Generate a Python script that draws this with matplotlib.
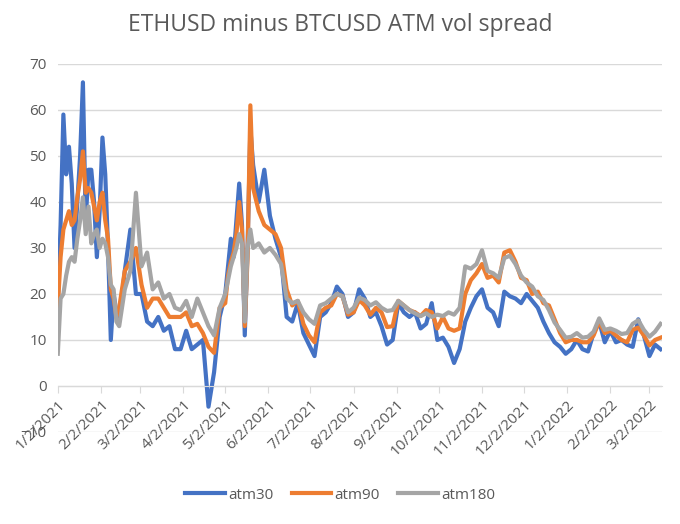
import pandas as pd
import matplotlib
matplotlib.use("Agg")
import matplotlib.pyplot as plt

# days since 1/2/2021 of each reading
days = ([0, 2, 4, 6, 8, 10, 12, 14, 16, 18, 20, 22, 24, 26, 28, 30, 32, 34, 36, 38, 40, 42, 44]
        + [48, 52, 56, 60, 64, 68, 72, 76, 80, 84, 88, 92, 96, 100, 104, 108, 112, 116]
        + [120, 122, 124, 126, 128, 130, 132, 134, 136, 138, 140]
        + [144, 148, 152, 156, 160, 164, 168, 172, 176, 180, 184, 188, 192, 196, 200,
           204, 208, 212, 216, 220, 224, 228, 232, 236, 240, 244, 248, 252, 256, 260,
           264, 268, 272, 276, 280, 284, 288, 292, 296, 300, 304, 308, 312, 316, 320,
           324, 328, 332, 336, 340, 344, 348, 352, 356, 360, 364, 368, 372, 376, 380,
           384, 388, 392, 396, 400, 404, 408, 412, 416, 420, 424, 428, 432])

atm30 = ([18, 35, 59, 46, 52, 44, 30, 40, 50, 66, 36, 47, 47, 40, 28, 38, 54, 46, 30, 10, 20, 16, 14]
         + [25, 34, 20, 20, 14, 13, 15, 12, 13, 8, 8, 12, 8, 9, 10, -4.5, 3, 15]
         + [20, 26, 32, 28, 36, 44, 35, 11, 30, 56, 48]
         + [40, 47, 37, 32, 28, 15, 14, 18, 11.5, 9, 6.5, 15, 16, 18, 21.6,
            20, 15, 16, 21, 19, 15, 16, 13, 9, 10, 18, 16, 15, 16, 12.5,
            13.5, 18, 10, 10.5, 8.5, 5, 8, 14, 17, 19.5, 21, 17, 16, 13, 20.5,
            19.5, 19, 18, 20, 18.5, 17, 14, 11.5, 9.5, 8.5, 7, 8, 10, 8, 7.5,
            11.5, 14, 9.5, 12, 9.5, 10, 9, 8.5, 14.5, 11, 6.5, 9, 8])

atm90 = ([17, 28, 34, 36, 38, 35, 36, 41, 45, 51, 42, 43, 42, 39, 36, 40, 42, 36, 32, 21, 19, 15, 17]
         + [25, 27, 30, 22, 17, 19, 19, 17, 15, 15, 15, 16, 13, 13.5, 11.5, 8.5, 7.2, 17]
         + [18, 24, 27, 29, 33, 40, 34, 13, 28, 61, 43]
         + [38, 35, 34, 33, 30, 21, 17.5, 18.5, 13.5, 11, 9.5, 16, 17, 17.5, 20,
            19.5, 15.5, 16, 18.7, 17.5, 15.5, 17, 16, 12.8, 13, 18.5, 17.5, 16.5, 16, 15.2,
            16.5, 16, 12.5, 15, 12.5, 12, 12.5, 20, 23, 24.5, 26.5, 23.5, 24, 22.5, 29,
            29.5, 27, 23.5, 23, 20, 20.5, 18, 17.5, 14.5, 11.5, 9.5, 10, 10, 9.5, 9.5,
            11, 14, 11.5, 12, 11, 10, 9.5, 12.2, 12.7, 11, 8.8, 10, 10.5])

atm180 = ([7, 19, 20, 24, 27, 28, 27, 32, 36, 41, 33, 39, 31, 33, 34, 30, 32, 31, 28, 22, 21, 14, 13]
          + [21, 25, 42, 26, 29, 21, 22.5, 19, 20, 17, 16.5, 18.5, 15, 19, 16, 13, 11, 17]
          + [20, 23, 26, 28, 30, 33, 31, 14, 30, 34, 30]
          + [31, 29, 30, 28.5, 26.5, 19, 18, 18.5, 16, 14.5, 13.5, 17.5, 18, 19, 20,
             19.5, 16, 17, 19.2, 18.7, 17.5, 18.2, 17, 16.3, 16.5, 18.5, 17.5, 16.5, 15.8, 15.2,
             15.8, 15, 15.5, 15.2, 16, 15.5, 17, 26, 25.5, 26.5, 29.5, 25, 24.5, 23.5, 27.8,
             28.3, 26.5, 24, 22.5, 21.6, 19.5, 18.7, 16.5, 13.8, 12.2, 10.5, 10.7, 11.5, 10.5, 10.7,
             11.8, 14.7, 12.2, 12.5, 12, 11.3, 11.5, 13.5, 14.3, 12.2, 10.7, 11.8, 13.5])

tick_labels = ["1/2/2021", "2/2/2021", "3/2/2021", "4/2/2021", "5/2/2021", "6/2/2021",
               "7/2/2021", "8/2/2021", "9/2/2021", "10/2/2021", "11/2/2021", "12/2/2021",
               "1/2/2022", "2/2/2022", "3/2/2022"]

start = pd.Timestamp("2021-01-02")
tick_days = [(d - start).days for d in pd.to_datetime(tick_labels, format="%m/%d/%Y")]

plt.rcParams["font.family"] = ["Open Sans", "DejaVu Sans"]
fig = plt.figure(figsize=(6.8, 5.24), dpi=100)
ax = fig.add_axes([0.085, 0.1756, 0.8885, 0.7024])

ax.plot(days, atm30, color="#4472C4", lw=3, label="atm30", solid_joinstyle="round")
ax.plot(days, atm90, color="#ED7D31", lw=3, label="atm90", solid_joinstyle="round")
ax.plot(days, atm180, color="#A5A5A5", lw=3, label="atm180", solid_joinstyle="round")

ax.set_ylim(-10, 70)
ax.set_yticks(range(-10, 71, 10))
ax.set_xlim(0, 433)

ax.grid(axis="y", color="#D9D9D9", lw=1)
ax.set_axisbelow(True)
for s in ["top", "right", "left"]:
    ax.spines[s].set_visible(False)
ax.spines["bottom"].set_position(("data", 0))
ax.spines["bottom"].set_color("#D9D9D9")
ax.tick_params(axis="x", colors="#D9D9D9", length=5, labelcolor="#595959",
               labelsize=11, pad=3, labelrotation=45)
ax.tick_params(axis="y", length=0, labelcolor="#595959", labelsize=11, pad=8)

ax.set_xticks(tick_days, tick_labels, rotation=45, ha="right", va="top",
              rotation_mode="anchor")

fig.suptitle("ETHUSD minus BTCUSD ATM vol spread", y=0.975, fontsize=16.5, color="#595959")
fig.legend(loc="center", bbox_to_anchor=(0.5, 0.055), ncol=3, frameon=False,
           fontsize=11, handlelength=2.6, handletextpad=0.2, columnspacing=1.2,
           labelcolor="#595959")

fig.savefig("out.png", dpi=100)
